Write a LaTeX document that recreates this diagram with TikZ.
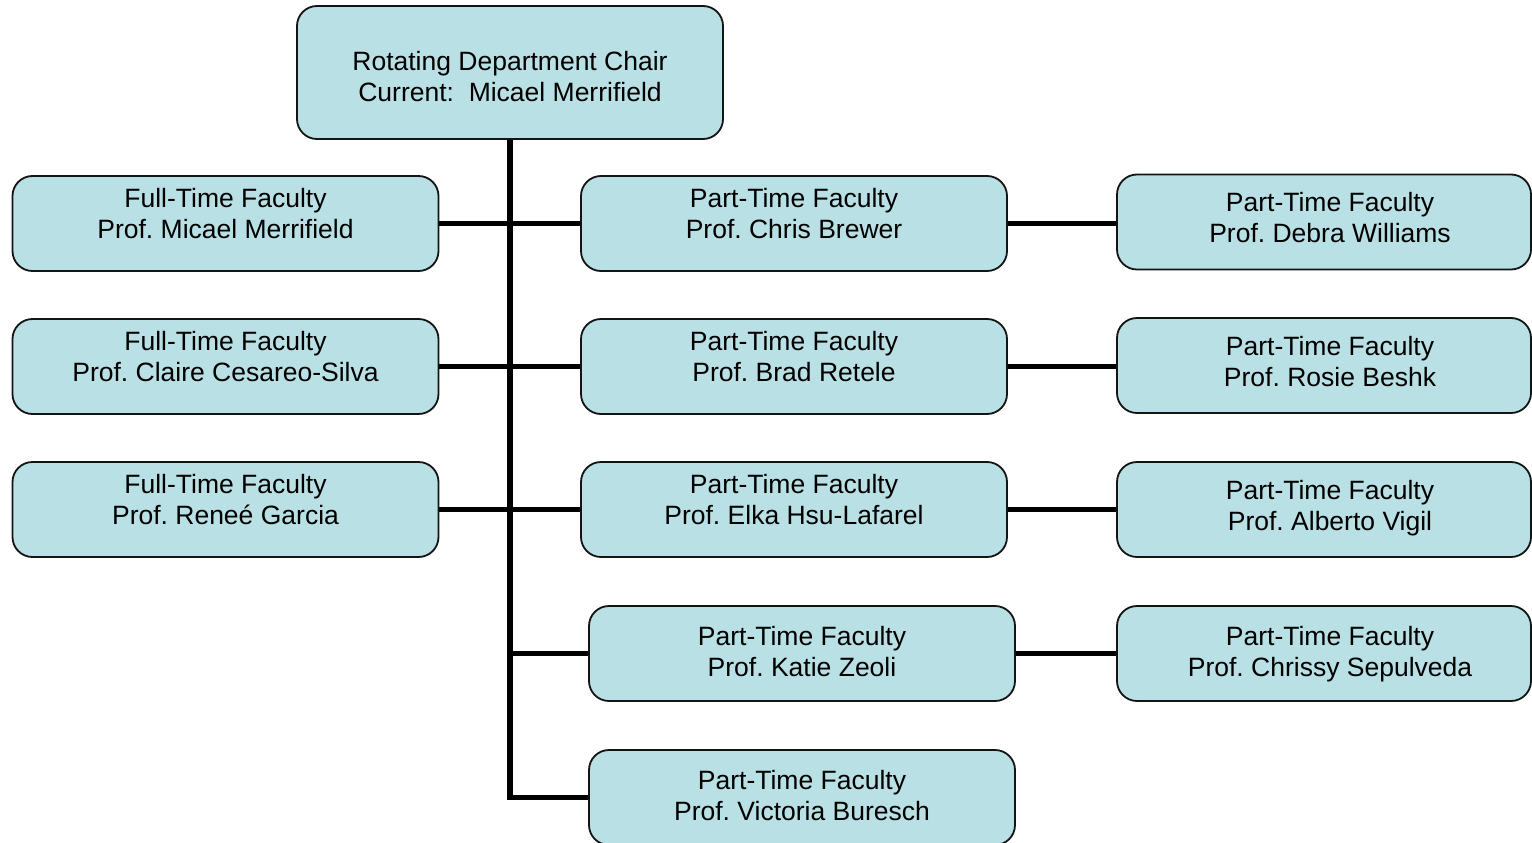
\documentclass[tikz,border=0pt]{standalone}
\usepackage{fontspec}
\setmainfont{Liberation Sans}
\frenchspacing
\definecolor{boxfill}{RGB}{185,224,228}
\definecolor{boxline}{RGB}{20,20,20}
\newcommand{\tl}[2]{\strut #1\\\strut #2}
\begin{document}
\begin{tikzpicture}[x=1pt,y=-1pt,
  box/.style={draw=boxline,fill=boxfill,line width=1.8pt,rounded corners=20pt,inner sep=0pt},
  wbox/.style={box,minimum width=426pt,minimum height=95pt},
  rbox/.style={box,minimum width=414pt,minimum height=95pt},
  txt/.style={align=center,inner sep=0pt,yshift=-3pt,font=\fontsize{26.5}{31}\selectfont},
  conn/.style={line width=5.8pt,line join=miter}]
\useasboundingbox (0,0) rectangle (1532,843);
% chair
\node[box,minimum width=426pt,minimum height=133pt] (chair) at (510,72.5) {};
\node[txt] (chairT) at (510,76.5) {\tl{Rotating Department Chair}{Current:\ \ Micael Merrifield}};
% full-time
\node[wbox] (ft1) at (225.5,223.5) {};
\node[wbox] (ft2) at (225.5,366.5) {};
\node[wbox] (ft3) at (225.5,509.5) {};
\node[txt] (ft1T) at (225.5,213.5) {\tl{Full-Time Faculty}{Prof. Micael Merrifield}};
\node[txt] (ft2T) at (225.5,356.5) {\tl{Full-Time Faculty}{Prof. Claire Cesareo-Silva}};
\node[txt] (ft3T) at (225.5,499.5) {\tl{Full-Time Faculty}{Prof. Rene\'e Garcia}};
% middle part-time
\node[wbox] (pt1) at (794,223.5) {};
\node[wbox] (pt2) at (794,366.5) {};
\node[wbox] (pt3) at (794,509.5) {};
\node[wbox] (pt4) at (802,653.5) {};
\node[wbox] (pt5) at (802,797.5) {};
\node[txt] (pt1T) at (794,213.5) {\tl{Part-Time Faculty}{Prof. Chris Brewer}};
\node[txt] (pt2T) at (794,356.5) {\tl{Part-Time Faculty}{Prof. Brad Retele}};
\node[txt] (pt3T) at (794,499.5) {\tl{Part-Time Faculty}{Prof. Elka Hsu-Lafarel}};
\node[txt] (pt4T) at (802,651.5) {\tl{Part-Time Faculty}{Prof. Katie Zeoli}};
\node[txt] (pt5T) at (802,795.5) {\tl{Part-Time Faculty}{Prof. Victoria Buresch}};
% right part-time
\node[rbox] (rt1) at (1324,222) {};
\node[rbox] (rt2) at (1324,365.5) {};
\node[rbox] (rt3) at (1324,509.5) {};
\node[rbox] (rt4) at (1324,653.5) {};
\node[txt] (rt1T) at (1330,218) {\tl{Part-Time Faculty}{Prof. Debra Williams}};
\node[txt] (rt2T) at (1330,361.5) {\tl{Part-Time Faculty}{Prof. Rosie Beshk}};
\node[txt] (rt3T) at (1330,505.5) {\tl{Part-Time Faculty}{Prof. Alberto Vigil}};
\node[txt] (rt4T) at (1330,651.5) {\tl{Part-Time Faculty}{Prof. Chrissy Sepulveda}};
% connectors
\coordinate (bend) at (chair.south |- pt5.west);
\draw[conn] (chair.south) -- (bend) -- (pt5.west);
\draw[conn] (ft1.east) -- (pt1.west);
\draw[conn] (ft2.east) -- (pt2.west);
\draw[conn] (ft3.east) -- (pt3.west);
\draw[conn] (pt4.west -| chair.south) -- (pt4.west);
\draw[conn] (pt1.east) -- (pt1.east -| rt1.west);
\draw[conn] (pt2.east) -- (pt2.east -| rt2.west);
\draw[conn] (pt3.east) -- (pt3.east -| rt3.west);
\draw[conn] (pt4.east) -- (pt4.east -| rt4.west);
\end{tikzpicture}
\end{document}
